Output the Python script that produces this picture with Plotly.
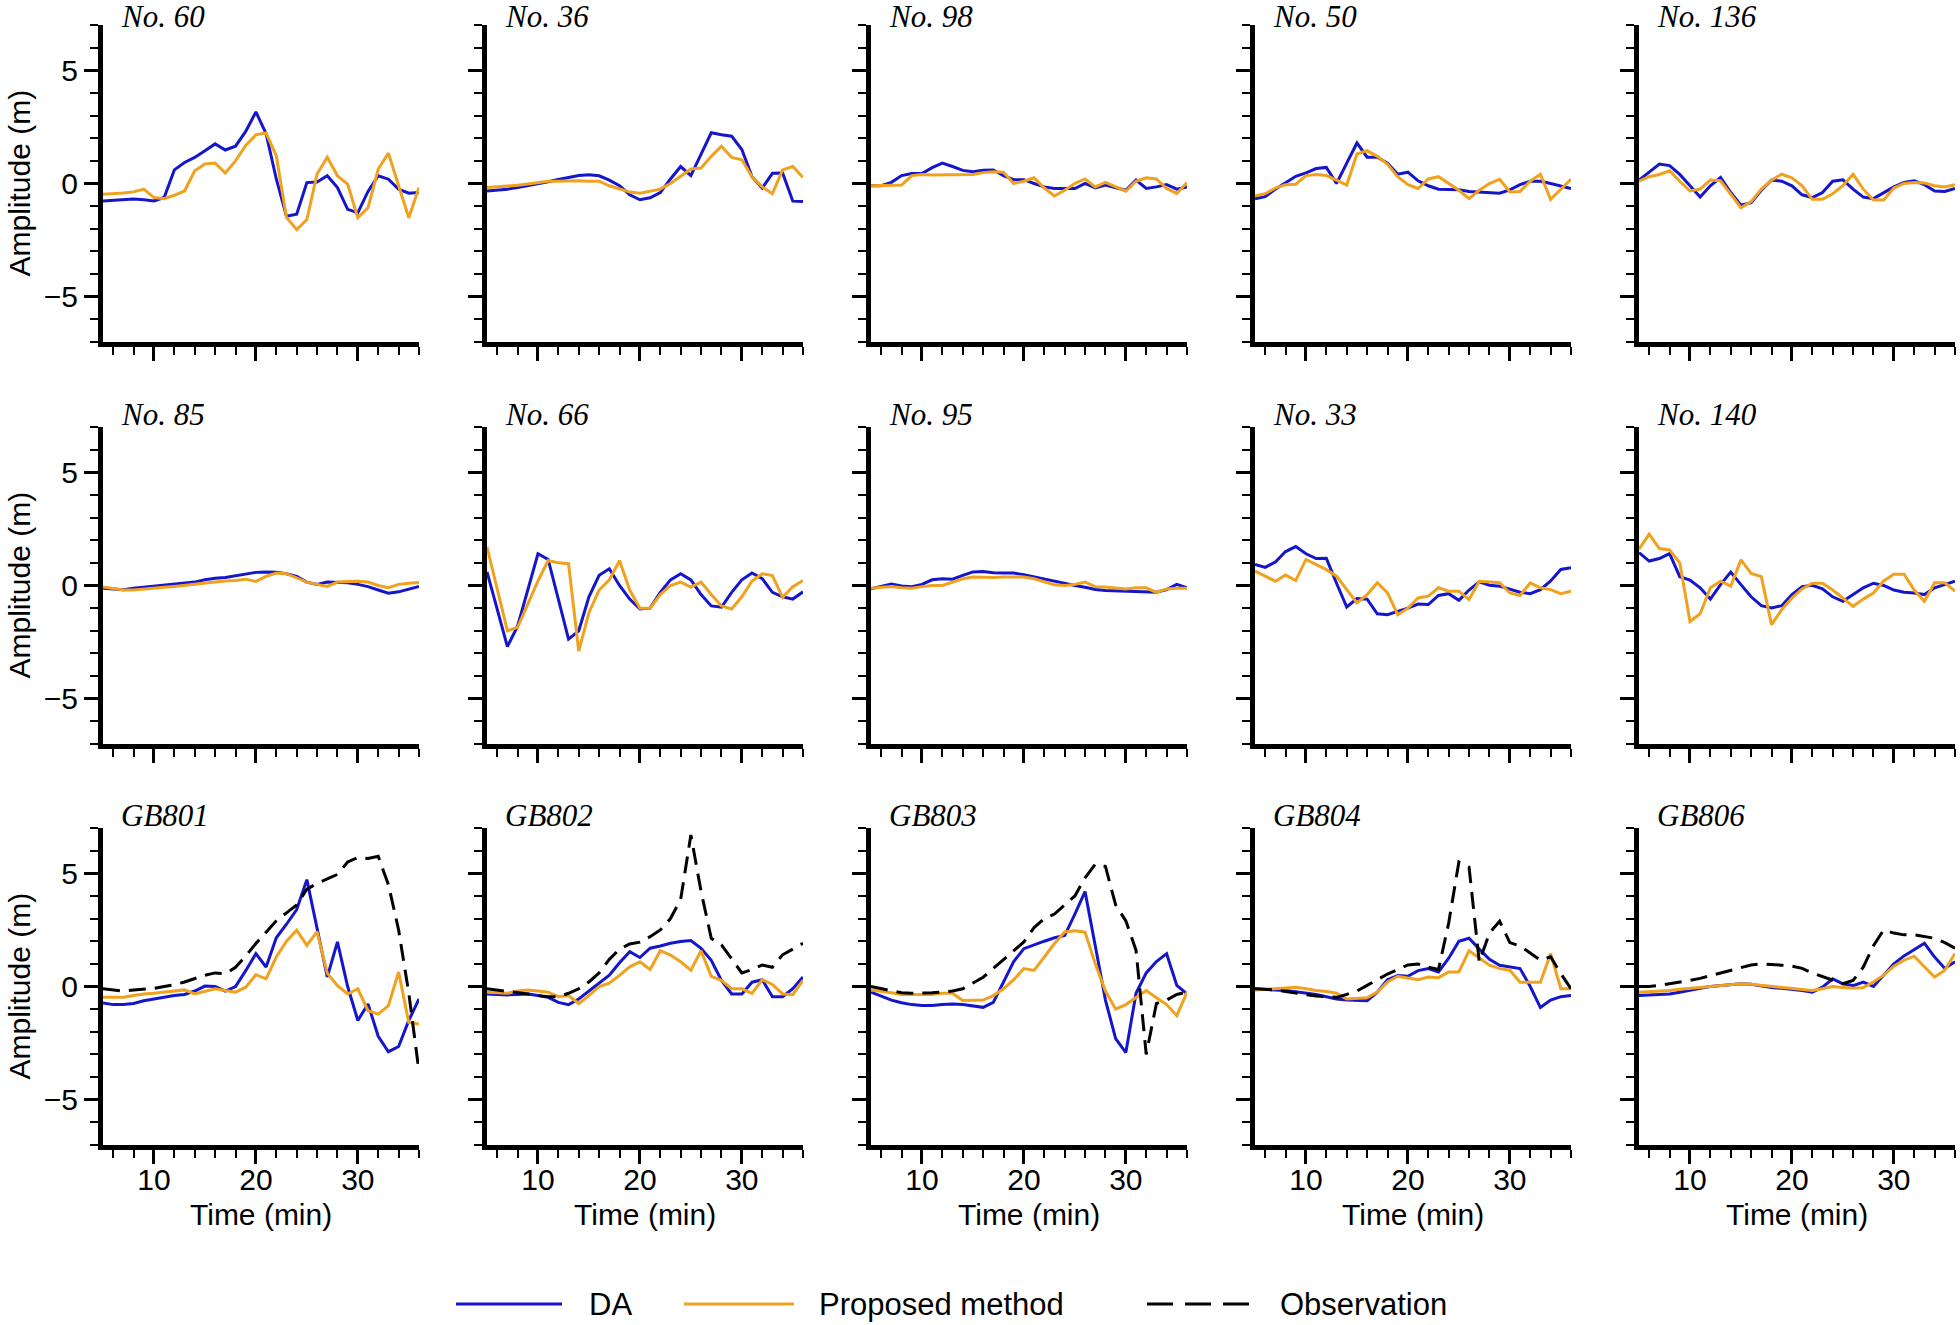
import plotly.graph_objects as go

W, H = 1960, 1325

# ---------------- data (minutes 5..36) ----------------
TIME = list(range(5, 37))

STATIONS = ["No. 60", "No. 36", "No. 98", "No. 50", "No. 136",
            "No. 85", "No. 66", "No. 95", "No. 33", "No. 140",
            "GB801", "GB802", "GB803", "GB804", "GB806"]

da_no60 = [-0.77, -0.75, -0.72, -0.68, -0.72, -0.77, -0.62, 0.6, 0.93, 1.15,
           1.45, 1.75, 1.48, 1.65, 2.3, 3.16, 2.2, 0.2, -1.45, -1.36,
           0.04, 0.07, 0.34, -0.18, -1.14, -1.29, -0.35, 0.34, 0.19, -0.25,
           -0.43, -0.4]
pm_no60 = [-0.47, -0.45, -0.42, -0.37, -0.25, -0.62, -0.67, -0.52, -0.33, 0.56,
           0.86, 0.9, 0.46, 1.0, 1.68, 2.15, 2.23, 1.23, -1.5, -2.03,
           -1.59, 0.42, 1.16, 0.34, -0.03, -1.51, -1.07, 0.64, 1.34, -0.1,
           -1.51, -0.18]

da_no36 = [-0.33, -0.3, -0.25, -0.18, -0.1, -0.02, 0.08, 0.18, 0.27, 0.35,
           0.39, 0.34, 0.15, -0.1, -0.5, -0.72, -0.63, -0.4, 0.2, 0.75,
           0.35, 1.3, 2.24, 2.15, 2.09, 1.5, 0.3, -0.2, 0.45, 0.46,
           -0.78, -0.8]
pm_no36 = [-0.18, -0.15, -0.12, -0.08, -0.02, 0.05, 0.1, 0.1, 0.12, 0.12,
           0.1, 0.1, -0.1, -0.25, -0.38, -0.43, -0.35, -0.25, 0.0, 0.34,
           0.64, 0.68, 1.2, 1.65, 1.15, 1.05, 0.3, -0.15, -0.45, 0.6,
           0.75, 0.27]

da_no98 = [-0.1, -0.1, 0.05, 0.35, 0.44, 0.44, 0.7, 0.9, 0.75, 0.58,
           0.52, 0.58, 0.6, 0.35, 0.17, 0.17, 0.0, -0.15, -0.22, -0.22,
           -0.22, 0.0, -0.2, -0.07, -0.2, -0.3, 0.15, -0.22, -0.15, -0.05,
           -0.25, -0.15]
pm_no98 = [-0.1, -0.1, -0.08, -0.07, 0.35, 0.4, 0.38, 0.38, 0.38, 0.37,
           0.4, 0.48, 0.52, 0.5, 0.0, 0.1, 0.25, -0.2, -0.55, -0.3,
           0.0, 0.2, -0.15, 0.05, -0.15, -0.34, 0.1, 0.25, 0.2, -0.22,
           -0.44, 0.04]

da_no50 = [-0.67, -0.58, -0.25, 0.05, 0.32, 0.47, 0.66, 0.71, 0.0, 0.9,
           1.79, 1.16, 1.16, 0.9, 0.41, 0.5, 0.12, -0.1, -0.25, -0.27,
           -0.28, -0.35, -0.38, -0.4, -0.43, -0.28, -0.05, 0.1, 0.1, 0.0,
           -0.1, -0.22]
pm_no50 = [-0.55, -0.45, -0.2, -0.05, -0.03, 0.35, 0.4, 0.35, 0.15, -0.07,
           1.3, 1.45, 1.2, 0.85, 0.3, -0.05, -0.22, 0.2, 0.3, 0.0,
           -0.3, -0.67, -0.3, 0.0, 0.19, -0.37, -0.35, 0.1, 0.41, -0.7,
           -0.25, 0.19]

da_no136 = [0.15, 0.5, 0.86, 0.79, 0.4, -0.1, -0.6, -0.1, 0.27, -0.4,
            -0.96, -0.85, -0.3, 0.15, 0.1, -0.1, -0.5, -0.62, -0.4, 0.1,
            0.16, -0.25, -0.6, -0.67, -0.4, -0.15, 0.05, 0.12, -0.05, -0.33,
            -0.35, -0.22]
pm_no136 = [0.1, 0.3, 0.4, 0.56, 0.1, -0.33, -0.25, 0.15, 0.12, -0.5,
            -1.07, -0.8, -0.25, 0.15, 0.41, 0.25, -0.1, -0.7, -0.7, -0.45,
            -0.1, 0.41, -0.25, -0.73, -0.73, -0.2, 0.0, 0.04, 0.02, -0.1,
            -0.15, -0.05]

da_no85 = [-0.12, -0.15, -0.19, -0.12, -0.08, -0.04, 0.0, 0.05, 0.1, 0.15,
           0.25, 0.32, 0.35, 0.42, 0.52, 0.58, 0.6, 0.58, 0.52, 0.4,
           0.15, 0.05, 0.15, 0.15, 0.12, 0.05, -0.05, -0.2, -0.34, -0.28,
           -0.15, -0.04]
pm_no85 = [-0.07, -0.12, -0.2, -0.2, -0.17, -0.13, -0.08, -0.04, 0.0, 0.05,
           0.1, 0.15, 0.2, 0.22, 0.28, 0.18, 0.4, 0.55, 0.52, 0.35,
           0.15, 0.05, -0.04, 0.15, 0.17, 0.19, 0.15, 0.0, -0.1, 0.05,
           0.1, 0.13]

da_no66 = [0.6, -1.0, -2.7, -1.8, -0.2, 1.4, 1.15, -0.6, -2.37, -2.0,
           -0.5, 0.45, 0.74, 0.0, -0.6, -1.04, -1.0, -0.3, 0.25, 0.52,
           0.25, -0.4, -0.9, -0.96, -0.3, 0.25, 0.55, 0.3, -0.3, -0.5,
           -0.6, -0.28]
pm_no66 = [1.7, -0.15, -2.0, -1.85, -0.8, 0.2, 1.1, 1.0, 0.96, -2.9,
           -1.2, -0.2, 0.25, 1.1, -0.2, -1.0, -1.0, -0.4, 0.0, 0.15,
           -0.07, 0.15, -0.4, -0.9, -1.04, -0.5, 0.2, 0.52, 0.44, -0.52,
           -0.05, 0.22]

da_no95 = [-0.15, -0.05, 0.07, -0.02, -0.05, 0.05, 0.25, 0.3, 0.28, 0.45,
           0.6, 0.62, 0.56, 0.55, 0.55, 0.48, 0.38, 0.28, 0.17, 0.08,
           0.0, -0.08, -0.18, -0.22, -0.24, -0.26, -0.28, -0.3, -0.3, -0.18,
           0.05, -0.1]
pm_no95 = [-0.12, -0.08, -0.04, -0.1, -0.12, -0.05, 0.0, 0.0, 0.15, 0.3,
           0.37, 0.35, 0.35, 0.37, 0.37, 0.37, 0.3, 0.15, 0.03, 0.0,
           0.05, 0.15, -0.05, -0.07, -0.1, -0.15, -0.1, -0.1, -0.3, -0.15,
           -0.12, -0.12]

da_no33 = [0.93, 0.8, 1.04, 1.5, 1.72, 1.4, 1.19, 1.2, 0.1, -0.95,
           -0.58, -0.6, -1.25, -1.29, -1.14, -1.0, -0.82, -0.84, -0.44, -0.36,
           -0.65, -0.2, 0.16, 0.01, -0.03, -0.15, -0.3, -0.36, -0.18, 0.2,
           0.71, 0.78]
pm_no33 = [0.64, 0.4, 0.19, 0.46, 0.22, 1.15, 0.93, 0.7, 0.41, -0.2,
           -0.77, -0.4, 0.12, -0.33, -1.29, -1.0, -0.55, -0.47, -0.1, -0.25,
           -0.25, -0.62, 0.19, 0.16, 0.12, -0.33, -0.44, 0.12, -0.1, -0.18,
           -0.36, -0.25]

da_no140 = [1.45, 1.08, 1.19, 1.41, 0.39, 0.24, -0.1, -0.6, 0.04, 0.59,
            0.04, -0.5, -0.89, -0.99, -0.89, -0.4, -0.05, 0.01, -0.15, -0.5,
            -0.7, -0.4, -0.1, 0.1, 0.0, -0.2, -0.3, -0.33, -0.4, -0.1,
            0.05, 0.19]
pm_no140 = [1.6, 2.27, 1.63, 1.57, 1.0, -1.59, -1.25, -0.1, 0.19, -0.03,
            1.13, 0.53, 0.39, -1.73, -1.07, -0.55, -0.15, 0.1, 0.1, -0.2,
            -0.55, -0.92, -0.6, -0.33, 0.2, 0.5, 0.5, -0.2, -0.7, 0.12,
            0.12, -0.25]

da_gb801 = [-0.73, -0.8, -0.8, -0.75, -0.63, -0.55, -0.47, -0.4, -0.35, -0.2,
            0.02, 0.0, -0.2, 0.0, 0.7, 1.45, 0.86, 2.15, 2.75, 3.4,
            4.72, 2.6, 0.42, 1.97, 0.0, -1.5, -0.77, -2.2, -2.88, -2.65,
            -1.5, -0.55]
pm_gb801 = [-0.47, -0.47, -0.47, -0.4, -0.33, -0.3, -0.25, -0.2, -0.15, -0.33,
            -0.22, -0.1, -0.18, -0.25, -0.03, 0.52, 0.34, 1.3, 2.0, 2.49,
            1.82, 2.42, 0.59, 0.04, -0.33, -0.1, -1.07, -1.22, -0.85, 0.64,
            -1.59, -1.66]
obs_gb801 = [-0.1, -0.15, -0.2, -0.15, -0.12, -0.08, 0.0, 0.08, 0.2, 0.35,
             0.5, 0.6, 0.56, 0.85, 1.35, 1.9, 2.4, 2.9, 3.25, 3.6,
             4.3, 4.55, 4.75, 4.95, 5.5, 5.7, 5.65, 5.75, 4.5, 2.5,
             -0.3, -3.75]

da_gb802 = [-0.33, -0.35, -0.37, -0.35, -0.33, -0.4, -0.48, -0.7, -0.8, -0.55,
            -0.2, 0.15, 0.5, 1.05, 1.54, 1.28, 1.69, 1.79, 1.91, 1.99,
            2.03, 1.69, 1.16, 0.27, -0.33, -0.33, 0.19, 0.3, -0.45, -0.45,
            -0.1, 0.42]
pm_gb802 = [-0.25, -0.28, -0.3, -0.2, -0.15, -0.2, -0.25, -0.45, -0.4, -0.75,
            -0.4, 0.0, 0.15, 0.49, 0.87, 1.09, 0.75, 1.58, 1.39, 1.09,
            0.72, 1.58, 0.45, 0.27, -0.1, -0.1, -0.3, 0.3, 0.09, -0.33,
            -0.36, 0.27]
obs_gb802 = [-0.1, -0.15, -0.2, -0.27, -0.33, -0.4, -0.45, -0.45, -0.3, -0.1,
             0.2, 0.6, 1.2, 1.65, 1.88, 1.96, 2.2, 2.5, 3.0, 3.85,
             6.69, 4.2, 2.13, 1.84, 1.2, 0.6, 0.75, 0.95, 0.85, 1.4,
             1.65, 1.91]

da_gb803 = [-0.25, -0.42, -0.6, -0.72, -0.8, -0.84, -0.84, -0.8, -0.77, -0.8,
            -0.85, -0.92, -0.7, 0.2, 1.1, 1.67, 1.85, 2.0, 2.15, 2.25,
            3.2, 4.19, 1.8, -0.6, -2.3, -2.92, -0.3, 0.6, 1.1, 1.45,
            0.05, -0.33]
pm_gb803 = [-0.15, -0.2, -0.28, -0.35, -0.36, -0.36, -0.35, -0.3, -0.3, -0.62,
            -0.6, -0.6, -0.4, -0.1, 0.3, 0.79, 0.71, 1.3, 1.9, 2.41,
            2.46, 2.4, 1.0, -0.2, -1.0, -0.8, -0.5, -0.18, -0.5, -0.8,
            -1.29, -0.25]
obs_gb803 = [0.0, -0.1, -0.2, -0.28, -0.3, -0.3, -0.28, -0.25, -0.2, -0.1,
             0.15, 0.41, 0.8, 1.2, 1.6, 1.97, 2.6, 3.0, 3.2, 3.6,
             4.0, 4.8, 5.4, 5.3, 3.6, 2.9, 1.6, -3.0, -0.75, -0.6,
             -0.35, -0.25]

da_gb804 = [-0.1, -0.12, -0.15, -0.18, -0.23, -0.28, -0.35, -0.45, -0.55, -0.6,
            -0.63, -0.63, -0.25, 0.3, 0.48, 0.45, 0.7, 0.79, 0.64, 1.25,
            2.0, 2.13, 1.65, 1.2, 0.94, 0.87, 0.79, 0.0, -0.93, -0.6,
            -0.45, -0.4]
pm_gb804 = [-0.15, -0.12, -0.08, -0.05, -0.03, -0.1, -0.18, -0.22, -0.3, -0.55,
            -0.52, -0.5, -0.25, 0.2, 0.45, 0.38, 0.3, 0.42, 0.39, 0.64,
            0.64, 1.58, 1.24, 0.94, 0.79, 0.72, 0.19, 0.19, 0.19, 1.46,
            -0.1, -0.1]
obs_gb804 = [-0.1, -0.12, -0.15, -0.22, -0.3, -0.36, -0.42, -0.46, -0.48, -0.35,
             -0.2, 0.05, 0.3, 0.55, 0.75, 0.95, 0.99, 0.85, 0.75, 2.8,
             5.5, 5.27, 1.09, 2.36, 2.88, 1.94, 1.79, 1.46, 1.16, 1.31,
             0.57, -0.1]

da_gb806 = [-0.4, -0.38, -0.35, -0.33, -0.25, -0.15, -0.08, 0.0, 0.04, 0.08,
            0.12, 0.1, 0.02, -0.05, -0.08, -0.12, -0.18, -0.25, -0.03, 0.34,
            0.12, 0.04, 0.19, 0.0, 0.5, 1.0, 1.35, 1.65, 1.91, 1.3,
            0.8, 1.09]
pm_gb806 = [-0.25, -0.23, -0.2, -0.18, -0.12, -0.08, -0.04, 0.0, 0.04, 0.08,
            0.12, 0.1, 0.05, 0.0, -0.05, -0.1, -0.14, -0.18, -0.1, 0.0,
            -0.04, -0.08, -0.05, 0.2, 0.5, 0.9, 1.16, 1.34, 0.87, 0.42,
            0.72, 1.46]
obs_gb806 = [0.0, 0.0, 0.05, 0.12, 0.18, 0.27, 0.36, 0.48, 0.6, 0.72,
             0.85, 0.95, 1.0, 0.98, 0.94, 0.9, 0.8, 0.6, 0.45, 0.28,
             0.12, 0.27, 0.85, 1.8, 2.5, 2.36, 2.28, 2.28, 2.2, 2.13,
             1.94, 1.69]

DA_SERIES = [da_no60, da_no36, da_no98, da_no50, da_no136,
             da_no85, da_no66, da_no95, da_no33, da_no140,
             da_gb801, da_gb802, da_gb803, da_gb804, da_gb806]
PM_SERIES = [pm_no60, pm_no36, pm_no98, pm_no50, pm_no136,
             pm_no85, pm_no66, pm_no95, pm_no33, pm_no140,
             pm_gb801, pm_gb802, pm_gb803, pm_gb804, pm_gb806]
OBS_SERIES = [None] * 10 + [obs_gb801, obs_gb802, obs_gb803, obs_gb804, obs_gb806]

LEGEND_NAMES = ["DA", "Proposed method", "Observation"]

# ---------------- styling ----------------
BLUE = "#1515CC"
ORANGE = "#F0A11E"
SANS = "Liberation Sans, Arial, sans-serif"
SERIF = "Liberation Serif, Times New Roman, serif"
FS = 30

col_left = [103, 487, 871, 1255, 1639]
PANEL_W = 316
row_top = [25, 427, 828]
PANEL_H = 317

fig = go.Figure()
layout = {}
annotations = []

for i in range(15):
    r, c = divmod(i, 5)
    k = i + 1
    xa = "x" if k == 1 else f"x{k}"
    ya = "y" if k == 1 else f"y{k}"
    xkey = "xaxis" if k == 1 else f"xaxis{k}"
    ykey = "yaxis" if k == 1 else f"yaxis{k}"
    x0 = col_left[c] / W
    x1 = (col_left[c] + PANEL_W) / W
    yb = 1 - (row_top[r] + PANEL_H) / H
    yt = 1 - row_top[r] / H

    common = dict(showline=True, linecolor="black", linewidth=5, mirror=False,
                  ticks="outside", tickcolor="black", tickwidth=3, ticklen=14,
                  showgrid=False, zeroline=False, automargin=False,
                  tickfont=dict(family=SANS, size=FS, color="black"))
    layout[xkey] = dict(common, domain=[x0, x1], anchor=ya, range=[5, 36],
                        tick0=0, dtick=10, showticklabels=(r == 2),
                        ticklabelstandoff=-10,
                        minor=dict(ticks="outside", ticklen=8, tickwidth=2,
                                   tickcolor="black", tick0=0, dtick=2, showgrid=False))
    layout[ykey] = dict(common, domain=[yb, yt], anchor=xa, range=[-7, 7],
                        tick0=0, dtick=5, showticklabels=(c == 0),
                        minor=dict(ticks="outside", ticklen=8, tickwidth=2,
                                   tickcolor="black", tick0=0, dtick=1, showgrid=False))

    fig.add_trace(go.Scatter(x=TIME, y=DA_SERIES[i], mode="lines", name=LEGEND_NAMES[0],
                             line=dict(color=BLUE, width=3), xaxis=xa, yaxis=ya,
                             showlegend=False))
    fig.add_trace(go.Scatter(x=TIME, y=PM_SERIES[i], mode="lines", name=LEGEND_NAMES[1],
                             line=dict(color=ORANGE, width=3), xaxis=xa, yaxis=ya,
                             showlegend=False))
    if OBS_SERIES[i] is not None:
        fig.add_trace(go.Scatter(x=TIME, y=OBS_SERIES[i], mode="lines", name=LEGEND_NAMES[2],
                                 line=dict(color="black", width=3, dash="17px,9px"),
                                 xaxis=xa, yaxis=ya, showlegend=False))

    # panel title
    annotations.append(dict(text=f"<i>{STATIONS[i]}</i>", xref="paper", yref="paper",
                            x=(col_left[c] + 16) / W, y=1 - max(row_top[r] - 13, 17) / H,
                            xanchor="left", yanchor="middle", showarrow=False,
                            font=dict(family=SERIF, size=31, color="black")))
    if c == 0:
        annotations.append(dict(text="Amplitude (m)", xref="paper", yref="paper",
                                x=19 / W, y=1 - (row_top[r] + PANEL_H / 2) / H,
                                xanchor="center", yanchor="middle", textangle=-90,
                                showarrow=False,
                                font=dict(family=SANS, size=FS, color="black")))
    if r == 2:
        annotations.append(dict(text="Time (min)", xref="paper", yref="paper",
                                x=(col_left[c] + PANEL_W / 2) / W, y=1 - 1214 / H,
                                xanchor="center", yanchor="middle", showarrow=False,
                                font=dict(family=SANS, size=FS, color="black")))

# ---------------- legend (drawn manually) ----------------
LEG_Y = 1 - 1304 / H
shapes = [
    dict(type="line", xref="paper", yref="paper", x0=456 / W, x1=562 / W, y0=LEG_Y, y1=LEG_Y,
         line=dict(color=BLUE, width=3)),
    dict(type="line", xref="paper", yref="paper", x0=684 / W, x1=794 / W, y0=LEG_Y, y1=LEG_Y,
         line=dict(color=ORANGE, width=3)),
    dict(type="line", xref="paper", yref="paper", x0=1147 / W, x1=1250 / W, y0=LEG_Y, y1=LEG_Y,
         line=dict(color="black", width=3, dash="26px,12px")),
]
for name, xl in zip(LEGEND_NAMES, [587, 817, 1278]):
    annotations.append(dict(text=name, xref="paper", yref="paper", x=xl / W, y=LEG_Y,
                            xanchor="left", yanchor="middle", showarrow=False,
                            font=dict(family=SANS, size=31, color="black")))

fig.update_layout(
    width=W, height=H,
    margin=dict(l=0, r=0, t=0, b=0),
    paper_bgcolor="white", plot_bgcolor="white",
    showlegend=False,
    annotations=annotations,
    shapes=shapes,
    **layout,
)

fig.write_html("out.html",
               config={"displayModeBar": False},
               post_script="document.body.style.margin='0';document.body.style.overflow='hidden';")
